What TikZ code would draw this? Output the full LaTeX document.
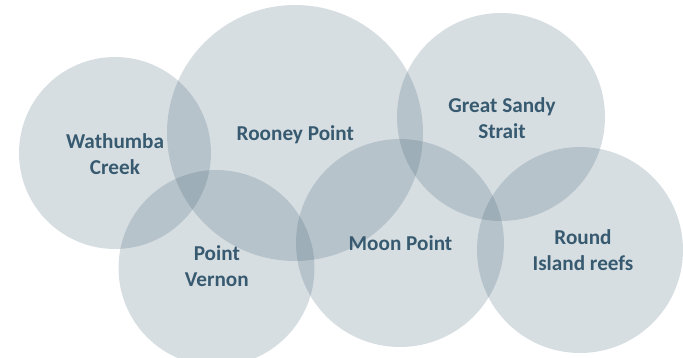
\documentclass[tikz,border=0pt]{standalone}
\usepackage{fontspec}
\setmainfont{Carlito}
\definecolor{bubble}{RGB}{55,90,110}
\definecolor{labeltext}{RGB}{55,90,112}
\begin{document}
\begin{tikzpicture}[x=1pt,y=-1pt,
  bubblestyle/.style={circle,draw=none,fill=bubble,fill opacity=0.2,inner sep=0pt,minimum size=#1},
  labelstyle/.style={text=labeltext,align=center,inner sep=0pt,
    font=\fontsize{21.2pt}{25.8pt}\selectfont\bfseries}]
\useasboundingbox (0,0) rectangle (683,358);
% circles
\node[bubblestyle=192pt] (wathumba) at (115,153) {};
\node[bubblestyle=256pt] (rooney) at (295,133) {};
\node[bubblestyle=208pt] (sandy) at (501,117) {};
\node[bubblestyle=196pt] (vernon) at (216.5,268) {};
\node[bubblestyle=208pt] (moon) at (400,243) {};
\node[bubblestyle=206pt] (round) at (580,250) {};
% labels
\node[labelstyle] (twathumba) at (115,154) {Wathumba\\Creek};
\node[labelstyle,anchor=base] (trooney) at (295.3,141) {Rooney Point};
\node[labelstyle] (tsandy) at (502,118) {Great Sandy\\Strait};
\node[labelstyle] (tvernon) at (216.8,266.5) {Point\\Vernon};
\node[labelstyle,anchor=base] (tmoon) at (400.5,250.7) {Moon Point};
\node[labelstyle] (tround) at (583,250) {Round\\Island reefs};
\end{tikzpicture}
\end{document}
